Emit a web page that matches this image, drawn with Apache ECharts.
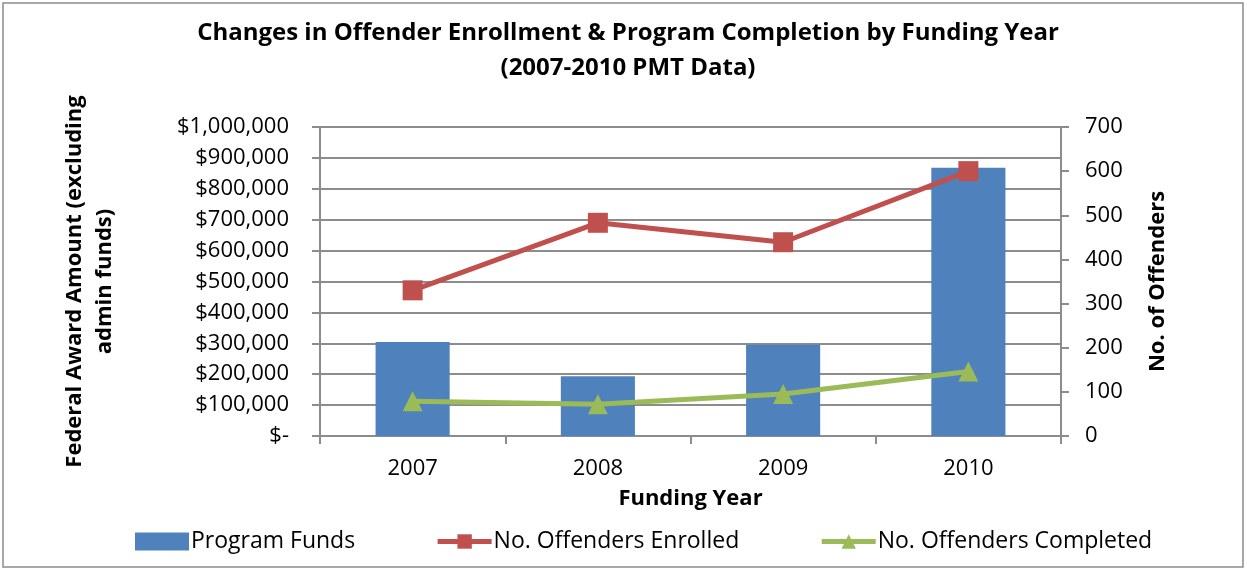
<!DOCTYPE html>
<html>
<head>
<meta charset="utf-8">
<script src="https://cdn.jsdelivr.net/npm/echarts@6/dist/echarts.min.js"></script>
<style>html,body{margin:0;padding:0;background:#fff}#c{width:1247px;height:571px}</style>
</head>
<body>
<div id="c"></div>
<script>
const years = ['2007', '2008', '2009', '2010'];
const programFunds = [304000, 193000, 295000, 868000];
const enrolled = [330, 483, 439, 600];
const completed = [79, 72, 95, 146];

const FONT = '"Open Sans", "Liberation Sans", sans-serif';
const chart = echarts.init(document.getElementById('c'), null, {renderer: 'canvas'});
const gridColor = '#8c8c8c';
const FS = 22;
chart.setOption({
  backgroundColor: '#fff',
  textStyle: {fontFamily: FONT, color: '#000'},
  title: {
    text: 'Changes in Offender Enrollment & Program Completion by Funding Year\n(2007-2010 PMT Data)',
    left: 623, top: 11, textAlign: 'center',
    textStyle: {fontFamily: FONT, fontSize: 24, fontWeight: 'bold', color: '#000', lineHeight: 35}
  },
  graphic: [{
    type: 'rect', shape: {x: 3, y: 3, width: 1240, height: 564},
    style: {fill: 'none', stroke: '#8c8c8c', lineWidth: 1.5}, silent: true
  }],
  legend: {
    top: 525, left: 130,
    itemWidth: 54, itemHeight: 18, itemGap: 80,
    textStyle: {fontFamily: FONT, fontSize: 23, color: '#000', padding: [0, 0, 0, -3]},
    data: [
      {name: 'Program Funds', icon: 'rect'},
      {name: 'No. Offenders Enrolled', lineStyle: {width: 5}},
      {name: 'No. Offenders Completed', lineStyle: {width: 5}}
    ]
  },
  grid: {left: 320, right: 186, top: 127, bottom: 135},
  xAxis: {
    type: 'category', data: years,
    name: 'Funding Year', nameLocation: 'middle', nameGap: 52,
    nameTextStyle: {fontFamily: FONT, fontSize: FS, fontWeight: 'bold', color: '#000'},
    axisLine: {lineStyle: {color: gridColor, width: 2}},
    axisTick: {show: true, length: 8, lineStyle: {color: gridColor, width: 2}},
    axisLabel: {fontFamily: FONT, fontSize: FS, color: '#000', margin: 22}
  },
  yAxis: [{
    type: 'value', min: 0, max: 1000000, interval: 100000,
    name: 'Federal Award Amount (excluding\nadmin funds)', nameLocation: 'middle', nameGap: 200, nameRotate: 90,
    nameTextStyle: {fontFamily: FONT, fontSize: FS, fontWeight: 'bold', color: '#000', lineHeight: 30},
    axisLine: {show: true, lineStyle: {color: gridColor, width: 2}},
    axisTick: {show: true, length: 8, lineStyle: {color: gridColor, width: 2}},
    splitLine: {show: true, lineStyle: {color: gridColor, width: 2}},
    axisLabel: {
      fontFamily: FONT, fontSize: FS, color: '#000', margin: 31,
      formatter: v => v === 0 ? '$-' : '$' + v.toLocaleString('en-US')
    }
  }, {
    type: 'value', min: 0, max: 700, interval: 100,
    name: 'No. of Offenders', nameLocation: 'middle', nameGap: 86, nameRotate: 90,
    nameTextStyle: {fontFamily: FONT, fontSize: FS, fontWeight: 'bold', color: '#000'},
    axisLine: {show: true, lineStyle: {color: gridColor, width: 2}},
    axisTick: {show: true, length: 8, lineStyle: {color: gridColor, width: 2}},
    splitLine: {show: false},
    axisLabel: {fontFamily: FONT, fontSize: FS, color: '#000', margin: 24}
  }],
  series: [{
    name: 'Program Funds', type: 'bar', data: programFunds, yAxisIndex: 0,
    barWidth: '40%', itemStyle: {color: '#4F81BD'}
  }, {
    name: 'No. Offenders Enrolled', type: 'line', data: enrolled, yAxisIndex: 1,
    symbol: 'rect', symbolSize: 20, lineStyle: {color: '#C0504D', width: 5},
    itemStyle: {color: '#C0504D'}
  }, {
    name: 'No. Offenders Completed', type: 'line', data: completed, yAxisIndex: 1,
    symbol: 'triangle', symbolSize: 20, lineStyle: {color: '#9BBB59', width: 5},
    itemStyle: {color: '#9BBB59'}
  }]
});
</script>
</body>
</html>
